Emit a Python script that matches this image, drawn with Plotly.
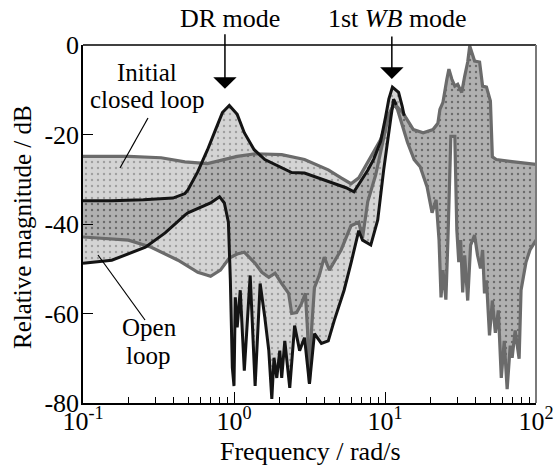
import math
import plotly.graph_objects as go

# ---------------- data ----------------
# Open loop, upper envelope (black line part)
ol_up_f = [0.1, 0.155, 0.251, 0.394, 0.473, 0.495, 0.576, 0.668, 0.755, 0.838, 0.931,
           1.05, 1.17, 1.36, 1.60, 1.98, 2.41, 2.93, 4.40, 5.52, 6.23, 7.69, 8.42, 9.36,
           10.1, 10.6, 11.2, 12.3, 13.0, 13.4]
ol_up_db = [-34.8, -34.8, -34.6, -34.2, -33.2, -32.4, -28.3, -23.4, -18.9, -15.1, -13.5,
            -15.5, -19.6, -23.4, -25.6, -27.2, -28.5, -28.6, -30.8, -31.9, -32.8, -28.0, -25.5, -21.5,
            -16.0, -12.1, -9.4, -10.6, -13.7, -15.8]

# Open loop, lower envelope (black line part)
ol_lo_f = [0.1, 0.155, 0.259, 0.350, 0.473, 0.495, 0.700, 0.802, 0.863, 0.918, 0.946,
           0.975, 1.00, 1.02, 1.05, 1.10, 1.17, 1.28, 1.38, 1.49, 1.60, 1.70, 1.78, 1.84,
           1.92, 2.01, 2.07, 2.17, 2.34, 2.52, 2.72, 2.93, 3.16, 3.41, 3.79, 4.21, 4.61,
           5.36, 5.95, 6.70, 7.10, 8.05, 8.95, 9.80, 10.9, 11.4, 11.9]
ol_lo_db = [-48.8, -48.1, -45.2, -42.0, -38.0, -37.5, -35.3, -33.9, -35.3, -39.6, -52.6,
            -72.1, -76.2, -56.4, -63.1, -54.8, -72.8, -51.5, -76.2, -53.3, -60.9, -68.3, -79.1, -69.9,
            -74.4, -68.3, -74.4, -66.1, -76.6, -62.7, -68.3, -65.4, -75.7, -64.5, -66.7, -66.1, -61.6,
            -54.8, -48.8, -41.5, -43.6, -44.7, -39.1, -27.9, -16.6, -12.1, -13.4]

# Initial closed loop, upper envelope (grey line)
cl_up_f = [0.1, 0.2, 0.329, 0.473, 0.668, 0.813, 1.05, 1.38, 2.07, 2.93, 4.21, 5.12, 5.95,
           6.71, 7.69, 9.36, 10.4, 11.5, 12.5, 13.1, 15.4, 17.9, 20.8, 22.4, 23.1, 24.2,
           25.7, 26.5, 27.7, 29.0, 30.3, 32.2, 33.7, 35.3, 36.4, 38.0, 39.2, 42.3, 44.3,
           47.0, 49.9, 51.4, 54.6, 71.6, 100]
cl_up_db = [-24.9, -24.9, -25.2, -26.1, -26.5, -25.8, -24.9, -24.3, -24.5, -25.6, -27.9, -29.7, -31.0,
            -29.7, -26.3, -21.1, -16.6, -13.0, -14.4, -15.1, -18.9, -19.6, -18.9, -17.5, -14.4, -12.8,
            -7.6, -5.4, -7.6, -9.2, -8.8, -10.6, -7.0, -3.8, -0.2, -2.0, -3.6, -3.8, -9.2,
            -9.4, -12.5, -25.0, -25.6, -26.1, -26.7]

# Initial closed loop, lower envelope (grey line)
cl_lo_f = [0.1, 0.2, 0.283, 0.426, 0.576, 0.700, 0.813, 0.931, 1.05, 1.17, 1.38, 1.53, 1.70,
           1.87, 2.07, 2.30, 2.41, 2.60, 2.80, 2.97, 3.07, 3.16, 3.26, 3.41, 3.67, 3.96, 4.28,
           4.61, 5.12, 5.95, 6.70, 7.10, 7.69, 8.68, 9.63, 10.6, 11.5, 12.1, 14.1, 15.6,
           17.1, 19.0, 20.5, 21.8, 22.8, 23.5, 24.2, 25.3, 26.1, 27.3, 29.0, 29.9, 30.8,
           31.7, 32.7, 33.7, 35.3, 36.9, 39.2, 41.0, 42.9, 44.3, 45.6, 47.0, 49.2, 51.4,
           53.8, 56.3, 58.9, 61.6, 64.4, 67.5, 69.5, 72.8, 77.3, 79.6, 85.9, 91.2, 100]
cl_lo_db = [-42.9, -43.6, -45.2, -48.1, -50.8, -51.7, -50.3, -47.6, -46.7, -46.3, -48.8, -50.8, -51.9,
            -51.0, -53.3, -55.5, -60.0, -59.8, -57.8, -55.5, -63.8, -75.5, -63.8, -54.2, -51.5, -47.4, -50.3,
            -48.5, -45.8, -40.4, -39.6, -43.1, -35.0, -29.0, -22.2, -15.5, -13.2, -14.4, -21.8, -25.6,
            -27.2, -31.7, -37.5, -34.6, -43.6, -56.4, -50.3, -56.9, -43.6, -20.4, -20.4, -41.3, -48.5,
            -43.6, -55.3, -47.0, -57.1, -44.7, -42.5, -47.0, -49.9, -45.8, -55.5, -52.6, -64.9, -57.1,
            -64.3, -59.3, -74.4, -66.1, -76.9, -67.2, -69.9, -63.8, -70.1, -54.8, -48.5, -45.8, -43.6]

x_tick_vals = [0.1, 1, 10, 100]
x_tick_text = ["10<sup>-1</sup>", "10<sup>0</sup>", "10<sup>1</sup>", "10<sup>2</sup>"]
x_minor_vals = [m * d for d in (0.1, 1, 10) for m in range(2, 10)]
y_tick_vals = [0, -20, -40, -60, -80]
y_tick_text = ["0", "-20", "-40", "-60", "-80"]

# ---------------- build the bands ----------------
# at high frequency the open-loop envelopes coincide with the closed-loop ones
ol_up_full_f = ol_up_f + [f for f in cl_up_f if f > ol_up_f[-1]]
ol_up_full_db = ol_up_db + [d for f, d in zip(cl_up_f, cl_up_db) if f > ol_up_f[-1]]
ol_lo_full_f = ol_lo_f + [f for f in cl_lo_f if f > ol_lo_f[-1]]
ol_lo_full_db = ol_lo_db + [d for f, d in zip(cl_lo_f, cl_lo_db) if f > ol_lo_f[-1]]

FONT = "Liberation Serif, Times New Roman, Times, DejaVu Serif, serif"
band_fill = "rgba(0,0,0,0.17)"
pattern = dict(shape=".", size=6, solidity=0.12, fgcolor="#3a3a3a", fgopacity=0.35,
               bgcolor=band_fill, fillmode="overlay")

fig = go.Figure()
fig.add_trace(go.Scatter(
    x=cl_up_f + cl_lo_f[::-1], y=cl_up_db + cl_lo_db[::-1],
    fill="toself", fillcolor=band_fill, fillpattern=pattern,
    mode="none", hoverinfo="skip", showlegend=False))
fig.add_trace(go.Scatter(
    x=ol_up_full_f + ol_lo_full_f[::-1], y=ol_up_full_db + ol_lo_full_db[::-1],
    fill="toself", fillcolor=band_fill, fillpattern=pattern,
    mode="none", hoverinfo="skip", showlegend=False))

grey = "#6b6b6b"
for fx, dy in ((cl_up_f, cl_up_db), (cl_lo_f, cl_lo_db)):
    fig.add_trace(go.Scatter(x=fx, y=dy, mode="lines",
                             line=dict(color=grey, width=3.2), showlegend=False))
for fx, dy in ((ol_up_f, ol_up_db), (ol_lo_f, ol_lo_db)):
    fig.add_trace(go.Scatter(x=fx, y=dy, mode="lines",
                             line=dict(color="#141414", width=3), showlegend=False))

# ---------------- axes ----------------
tickfont = dict(family=FONT, size=26, color="black")
fig.update_xaxes(type="log", range=[-1, 2], tickvals=x_tick_vals, ticktext=x_tick_text,
                 ticks="inside", ticklen=11, tickwidth=1.2, tickcolor="black",
                 showline=True, linecolor="black", linewidth=1.5,
                 showgrid=False, zeroline=False, automargin=False,
                 ticklabelstandoff=-6,
                 minor=dict(tickvals=x_minor_vals, ticks="inside", ticklen=6,
                            tickwidth=1.2, tickcolor="black", showgrid=False),
                 tickfont=tickfont)
fig.update_yaxes(range=[-80, 0], tickvals=y_tick_vals, ticktext=y_tick_text,
                 ticks="inside", ticklen=10, tickwidth=1.2, tickcolor="black",
                 showline=True, linecolor="black", linewidth=1.5,
                 showgrid=False, zeroline=False, automargin=False,
                 ticklabelstandoff=-3,
                 tickfont=tickfont)

L, R, T, B = 83, 19, 45, 62
PW, PH = 555 - L - R, 465 - T - B


def px(xp):
    return (xp - L) / PW


def py(yp):
    return (465 - B - yp) / PH


shapes = [
    dict(type="line", xref="paper", yref="paper", x0=0, x1=1, y0=1, y1=1,
         line=dict(color="black", width=1.5)),
    dict(type="line", xref="paper", yref="paper", x0=1, x1=1, y0=0, y1=1,
         line=dict(color="#7a7a7a", width=2)),
    # label pointers
    dict(type="line", xref="paper", yref="paper", x0=px(148), y0=py(118), x1=px(120), y1=py(168),
         line=dict(color="black", width=1.2)),
    dict(type="line", xref="paper", yref="paper", x0=px(145), y0=py(320), x1=px(98), y1=py(255),
         line=dict(color="black", width=1.2)),
]

tf = dict(family=FONT, size=26, color="black")
lf = dict(family=FONT, size=25, color="black")
ann = [
    dict(text="DR mode", x=px(230), y=py(18), xref="paper", yref="paper",
         showarrow=False, font=tf, xanchor="center", yanchor="middle"),
    dict(text="1st <i>WB</i> mode", x=px(397), y=py(18), xref="paper", yref="paper",
         showarrow=False, font=tf, xanchor="center", yanchor="middle"),
    dict(text="Initial", x=px(147), y=py(72), xref="paper", yref="paper",
         showarrow=False, font=lf, xanchor="center", yanchor="middle"),
    dict(text="closed loop", x=px(147), y=py(99), xref="paper", yref="paper",
         showarrow=False, font=lf, xanchor="center", yanchor="middle"),
    dict(text="Open", x=px(149), y=py(327), xref="paper", yref="paper",
         showarrow=False, font=lf, xanchor="center", yanchor="middle"),
    dict(text="loop", x=px(148), y=py(355), xref="paper", yref="paper",
         showarrow=False, font=lf, xanchor="center", yanchor="middle"),
    # arrows (tip at the resonance peak, tail above)
    dict(text="", x=math.log10(0.871), y=-9.8, xref="x", yref="y", showarrow=True,
         ax=0, ay=-56, arrowhead=1, arrowsize=2.6, arrowwidth=1.5, arrowcolor="black"),
    dict(text="", x=math.log10(11.1), y=-7.6, xref="x", yref="y", showarrow=True,
         ax=0, ay=-44, arrowhead=1, arrowsize=2.6, arrowwidth=1.5, arrowcolor="black"),
    # axis titles
    dict(text="Frequency / rad/s", x=px(310), y=py(452), xref="paper", yref="paper",
         showarrow=False, font=dict(family=FONT, size=26, color="black"),
         xanchor="center", yanchor="middle"),
    dict(text="Relative magnitude / dB", x=px(22), y=py(227), xref="paper", yref="paper",
         showarrow=False, textangle=-90, font=dict(family=FONT, size=25, color="black"),
         xanchor="center", yanchor="middle"),
]

fig.update_layout(width=555, height=465, autosize=False,
                  margin=dict(l=L, r=R, t=T, b=B, autoexpand=False),
                  paper_bgcolor="white", plot_bgcolor="white",
                  font=dict(family=FONT, color="black"),
                  shapes=shapes, annotations=ann, showlegend=False)

fig.write_html("out.html")
